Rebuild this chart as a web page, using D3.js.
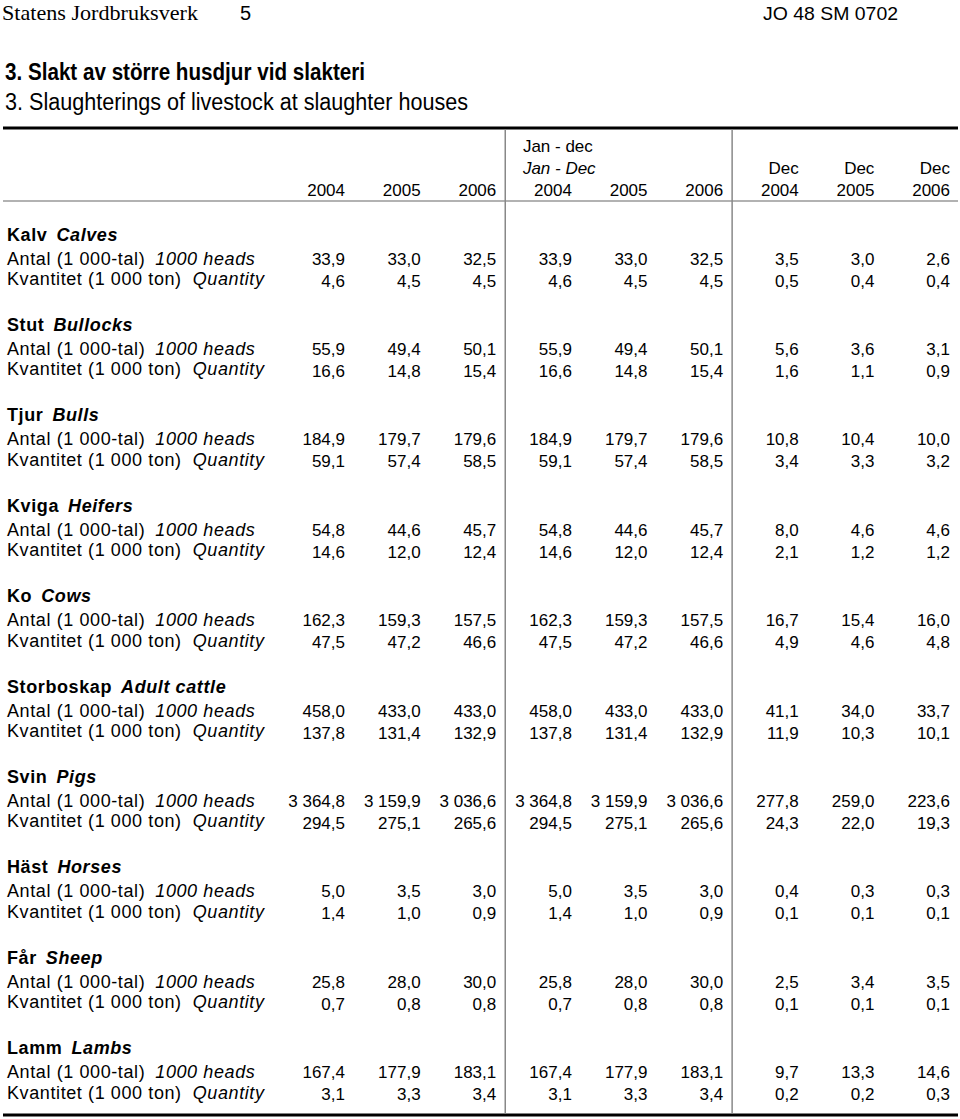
<!DOCTYPE html>
<html><head><meta charset="utf-8">
<script src="https://cdn.jsdelivr.net/npm/d3@7"></script>
<style>
html,body{margin:0;padding:0;background:#fff;}
svg{display:block;}
text{font-family:"Liberation Sans",Arial,sans-serif;fill:#000;}
</style></head>
<body>
<svg id="chart" width="960" height="1119"></svg>
<script>
// ---------- data ----------
const columnKeys = ["y2004","y2005","y2006","jd2004","jd2005","jd2006","d2004","d2005","d2006"];
const yearLabels = ["2004","2005","2006","2004","2005","2006","2004","2005","2006"];
const decLabels  = ["","","","","","","Dec","Dec","Dec"];
const speciesSv = ["Kalv","Stut","Tjur","Kviga","Ko","Storboskap","Svin","Häst","Får","Lamm"];
const speciesEn = ["Calves","Bullocks","Bulls","Heifers","Cows","Adult cattle","Pigs","Horses","Sheep","Lambs"];
const headsValues = [
  [33.9,33.0,32.5, 33.9,33.0,32.5, 3.5,3.0,2.6],
  [55.9,49.4,50.1, 55.9,49.4,50.1, 5.6,3.6,3.1],
  [184.9,179.7,179.6, 184.9,179.7,179.6, 10.8,10.4,10.0],
  [54.8,44.6,45.7, 54.8,44.6,45.7, 8.0,4.6,4.6],
  [162.3,159.3,157.5, 162.3,159.3,157.5, 16.7,15.4,16.0],
  [458.0,433.0,433.0, 458.0,433.0,433.0, 41.1,34.0,33.7],
  [3364.8,3159.9,3036.6, 3364.8,3159.9,3036.6, 277.8,259.0,223.6],
  [5.0,3.5,3.0, 5.0,3.5,3.0, 0.4,0.3,0.3],
  [25.8,28.0,30.0, 25.8,28.0,30.0, 2.5,3.4,3.5],
  [167.4,177.9,183.1, 167.4,177.9,183.1, 9.7,13.3,14.6]
];
const quantityValues = [
  [4.6,4.5,4.5, 4.6,4.5,4.5, 0.5,0.4,0.4],
  [16.6,14.8,15.4, 16.6,14.8,15.4, 1.6,1.1,0.9],
  [59.1,57.4,58.5, 59.1,57.4,58.5, 3.4,3.3,3.2],
  [14.6,12.0,12.4, 14.6,12.0,12.4, 2.1,1.2,1.2],
  [47.5,47.2,46.6, 47.5,47.2,46.6, 4.9,4.6,4.8],
  [137.8,131.4,132.9, 137.8,131.4,132.9, 11.9,10.3,10.1],
  [294.5,275.1,265.6, 294.5,275.1,265.6, 24.3,22.0,19.3],
  [1.4,1.0,0.9, 1.4,1.0,0.9, 0.1,0.1,0.1],
  [0.7,0.8,0.8, 0.7,0.8,0.8, 0.1,0.1,0.1],
  [3.1,3.3,3.4, 3.1,3.3,3.4, 0.2,0.2,0.3]
];

// ---------- drawing ----------
const svg = d3.select("#chart");
svg.append("rect").attr("width",960).attr("height",1119).attr("fill","#fff");

const fmt = d3.formatLocale({decimal:",", thousands:"\u00a0", grouping:[3], currency:["",""]}).format(",.1f");

const x = d3.scalePoint().domain(columnKeys).range([345, 950]);
const y = d3.scaleLinear().domain([0, 9]).range([240.5, 240.5 + 90.4*9]);
const FS = 17;      // numbers / column headers
const LFS = 18;     // row labels
const LSP = "0.6px";

// page header
svg.append("text").attr("x",2).attr("y",20)
  .style("font-family",'"Liberation Serif","Times New Roman",serif').style("font-size","21px")
  .attr("textLength",196).attr("lengthAdjust","spacingAndGlyphs").text("Statens Jordbruksverk");
svg.append("text").attr("x",240).attr("y",20).style("font-size","20px").text("5");
svg.append("text").attr("x",763).attr("y",20).style("font-size","19px")
  .attr("textLength",135).attr("lengthAdjust","spacingAndGlyphs").text("JO 48 SM 0702");
svg.append("text").attr("x",5).attr("y",80).style("font-size","23px").style("font-weight","bold")
  .attr("textLength",360).attr("lengthAdjust","spacingAndGlyphs").text("3. Slakt av större husdjur vid slakteri");
svg.append("text").attr("x",5).attr("y",110).style("font-size","23px")
  .attr("textLength",463).attr("lengthAdjust","spacingAndGlyphs").text("3. Slaughterings of livestock at slaughter houses");

// rules
const L = 3, R = 958, TOP = 128, HEAD = 201, BOT = 1115;
svg.append("line").attr("x1",L).attr("x2",R).attr("y1",TOP).attr("y2",TOP).attr("stroke","#000").attr("stroke-width",3);
svg.append("line").attr("x1",L).attr("x2",R).attr("y1",HEAD).attr("y2",HEAD).attr("stroke","#999").attr("stroke-width",1.5);
svg.append("line").attr("x1",L).attr("x2",R).attr("y1",BOT).attr("y2",BOT).attr("stroke","#000").attr("stroke-width",3);
["y2006","jd2006"].forEach(k=>{
  svg.append("line").attr("x1",x(k)+9).attr("x2",x(k)+9).attr("y1",TOP+1.5).attr("y2",BOT-1.5)
    .attr("stroke","#888").attr("stroke-width",1.5);
});

// column headers
const hdr = svg.append("g").style("font-size",FS+"px");
hdr.selectAll("text.yr").data(columnKeys).join("text").attr("class","yr")
  .attr("x",d=>x(d)).attr("y",196).attr("text-anchor","end").text((d,i)=>yearLabels[i]);
hdr.selectAll("text.dec").data(columnKeys.filter((d,i)=>decLabels[i])).join("text").attr("class","dec")
  .attr("x",d=>x(d)).attr("y",174).attr("text-anchor","end").text("Dec");
hdr.append("text").attr("x",x("jd2004")-49).attr("y",152).text("Jan - dec");
hdr.append("text").attr("x",x("jd2004")-49).attr("y",174).style("font-style","italic").text("Jan - Dec");

// body
const groups = svg.append("g")
  .selectAll("g.grp").data(speciesSv).join("g").attr("class","grp");

groups.each(function(name,i){
  const g = d3.select(this);
  const t = g.append("text").attr("x",7).attr("y",y(i)).style("font-size",LFS+"px")
    .style("letter-spacing",LSP).style("font-weight","bold");
  t.append("tspan").text(name);
  t.append("tspan").attr("dx",9).style("font-style","italic").text(speciesEn[i]);

  const a = g.append("text").attr("x",7).attr("y",y(i)+24).style("font-size",LFS+"px").style("letter-spacing",LSP);
  a.append("tspan").text("Antal (1 000-tal)");
  a.append("tspan").attr("dx",10).style("font-style","italic").text("1000 heads");

  const q = g.append("text").attr("x",7).attr("y",y(i)+44.5).style("font-size",LFS+"px").style("letter-spacing",LSP);
  q.append("tspan").text("Kvantitet (1 000 ton)");
  q.append("tspan").attr("dx",11).style("font-style","italic").text("Quantity");

  g.selectAll("text.h").data(headsValues[i]).join("text").attr("class","h")
    .style("font-size",FS+"px")
    .attr("x",(d,j)=>x(columnKeys[j])).attr("y",y(i)+24)
    .attr("text-anchor","end").text(d=>fmt(d));
  g.selectAll("text.q").data(quantityValues[i]).join("text").attr("class","q")
    .style("font-size",FS+"px")
    .attr("x",(d,j)=>x(columnKeys[j])).attr("y",y(i)+46)
    .attr("text-anchor","end").text(d=>fmt(d));
});
</script>
</body></html>
